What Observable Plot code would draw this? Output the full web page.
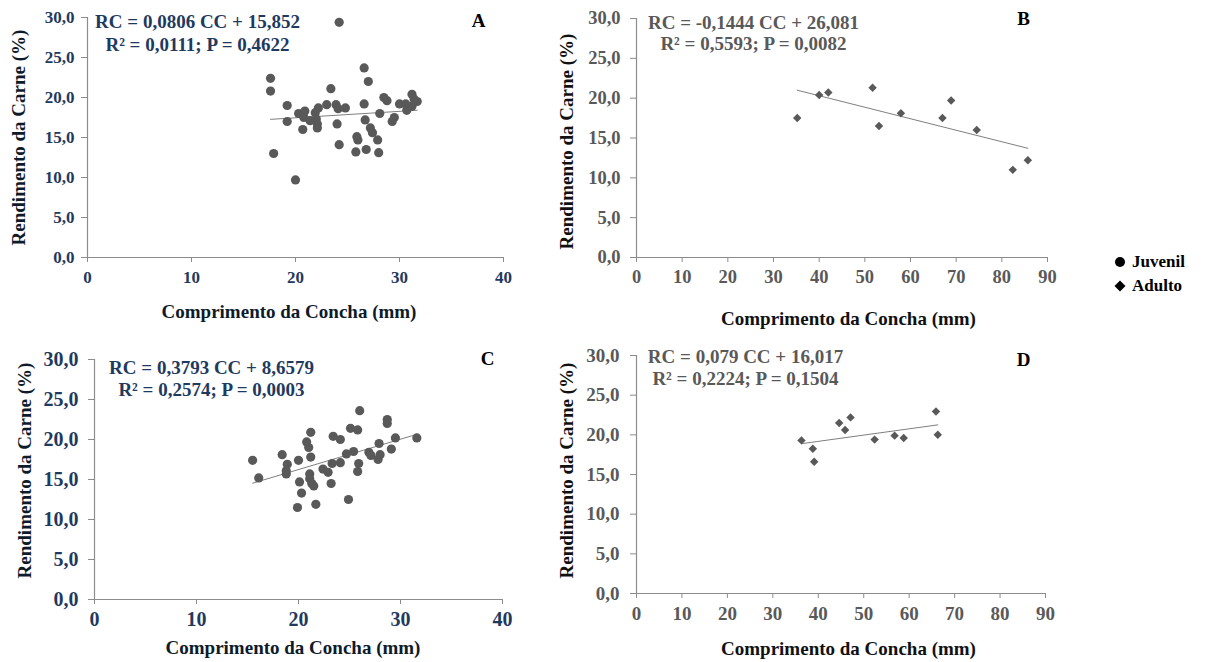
<!DOCTYPE html>
<html>
<head>
<meta charset="utf-8">
<script src="https://cdn.jsdelivr.net/npm/d3@7"></script>
<script src="https://cdn.jsdelivr.net/npm/@observablehq/plot@0.6"></script>
<style>
  html, body { margin: 0; padding: 0; background: #fff; }
  #root { position: relative; width: 1212px; height: 662px; overflow: hidden; font-family: "Liberation Serif", "Times New Roman", serif; }
  #root svg, #root svg text, #root svg g { font-family: "Liberation Serif", "Times New Roman", serif !important; font-weight: bold; font-variant: normal !important; }
  .panel { position: absolute; }
  .legend { position: absolute; font-family: "Liberation Serif", serif; font-weight: bold; font-size: 17px; color: #000; display: flex; align-items: center; gap: 6px; line-height: 22px; }
</style>
</head>
<body>
<div id="root"></div>
<script>
// ---------- DATA ----------
// Panel A (Juvenil)
const aX = [24.2,17.6,17.6,19.2,19.2,17.9,20.0,20.7,20.3,20.9,20.8,21.4,21.9,22.2,22.0,22.1,22.1,23.0,23.4,23.9,24.1,24.8,24.0,24.2,26.6,27.0,26.6,26.7,27.2,27.4,25.9,26.0,25.8,26.8,27.9,28.1,28.0,28.5,28.8,29.3,29.5,30.0,30.6,30.7,31.2,31.4,31.7,31.2];
const aY = [29.4,22.4,20.8,19.0,17.0,13.0,9.7,16.0,18.0,18.3,17.5,17.1,18.1,18.7,17.3,16.7,16.2,19.1,21.1,19.1,18.6,18.7,16.7,14.1,23.7,22.0,19.2,17.2,16.2,15.6,15.1,14.7,13.2,13.5,14.7,18.0,13.1,20.0,19.6,17.0,17.5,19.2,19.2,18.4,20.4,19.8,19.5,18.9];
// Panel B (Adulto)
const bX = [35.2,40.0,42.0,51.7,53.1,57.9,67.0,68.9,74.5,82.4,85.7];
const bY = [17.5,20.4,20.7,21.3,16.5,18.1,17.5,19.7,16.0,11.0,12.2];
// Panel C (Juvenil)
const cX = [15.5,16.1,18.4,18.9,18.8,18.8,20.0,20.1,20.3,19.9,20.8,21.0,21.2,21.2,21.1,21.1,21.3,21.5,21.7,22.4,22.9,23.2,23.3,23.4,24.1,24.1,24.7,24.9,25.1,25.4,25.8,26.0,25.9,25.8,26.9,27.1,27.8,27.9,28.0,28.7,28.7,29.1,29.5,31.6];
const cY = [17.4,15.2,18.1,16.9,16.1,15.7,17.4,14.7,13.3,11.5,19.7,19.0,20.9,17.8,15.7,15.1,14.5,14.2,11.9,16.3,15.9,14.5,17.0,20.4,20.0,17.1,18.2,12.5,21.4,18.5,21.2,23.6,17.0,16.0,18.4,18.0,17.5,19.5,18.1,22.5,22.0,18.8,20.2,20.2];
// Panel D (Adulto)
const dX = [36.3,38.8,39.1,44.6,45.9,47.1,52.4,56.8,58.8,65.9,66.3];
const dY = [19.3,18.25,16.6,21.5,20.6,22.2,19.4,19.9,19.6,22.95,20.0];

// Regression coefficients (slope, intercept) as printed on each panel
const slopes = [0.0806, -0.1444, 0.3793, 0.079];
const intercepts = [15.852, 26.081, 8.6579, 16.017];

// Texts
const letters = ["A", "B", "C", "D"];
const eqLine1 = ["RC = 0,0806 CC + 15,852", "RC = -0,1444 CC + 26,081", "RC = 0,3793 CC + 8,6579", "RC = 0,079 CC + 16,017"];
const eqLine2 = ["R\u00b2 = 0,0111; P = 0,4622", "R\u00b2 = 0,5593; P = 0,0082", "R\u00b2 = 0,2574; P = 0,0003", "R\u00b2 = 0,2224; P = 0,1504"];
const xTitle = "Comprimento da Concha (mm)";
const yTitle = "Rendimento da Carne (%)";
const yTicks = [0, 5, 10, 15, 20, 25, 30];
const xTicksJuv = [0, 10, 20, 30, 40];
const xTicksAdu = [0, 10, 20, 30, 40, 50, 60, 70, 80, 90];
const legendLabels = ["Juvenil", "Adulto"];

// ---------- STYLE ----------
const FONT = "Liberation Serif";
const axisGray = "#8c8c8c";
const lineGray = "#7f7f7f";
const dotGray = "#595959";
const navy = "#1f3a5f";
const gray = "#595959";
const fmtY = d => d.toFixed(1).replace(".", ",");

const panels = [
  {xs: aX, ys: aY, i: 0, left: 0, top: 0, w: 540, h: 330, ml: 87, mr: 37, mt: 17, mb: 73,
   xmax: 40, xticks: xTicksJuv, symbol: "circle", r: 4.6, tickFs: 17, tickColor: navy, eqColor: navy, titleColor: "#0d1b2a",
   ypad: 7, xpad: 8, eqdx: 110, eq1dy: 4, eq2dy: 27, letdx: 391, letdy: 3,
   xtdx: -6.5, xtdy: 54, ytdx: -69, ytdy: 0},
  {xs: bX, ys: bY, i: 1, left: 540, top: 0, w: 540, h: 330, ml: 96, mr: 33, mt: 18, mb: 73,
   xmax: 90, xticks: xTicksAdu, symbol: "diamond2", r: 3.8, tickFs: 18.5, tickColor: gray, eqColor: gray, titleColor: "#111",
   ypad: 10, xpad: 7, eqdx: 117, eq1dy: 4, eq2dy: 25, letdx: 387, letdy: 0,
   xtdx: 6.5, xtdy: 61, ytdx: -70, ytdy: 3.5},
  {xs: cX, ys: cY, i: 2, left: 0, top: 330, w: 540, h: 332, ml: 94, mr: 38, mt: 29, mb: 63,
   xmax: 40, xticks: xTicksJuv, symbol: "circle", r: 4.6, tickFs: 20, tickColor: navy, eqColor: navy, titleColor: "#0d1b2a",
   ypad: 10, xpad: 7, eqdx: 117, eq1dy: 8, eq2dy: 30, letdx: 393, letdy: -1,
   xtdx: -5.5, xtdy: 48, ytdx: -70, ytdy: -9},
  {xs: dX, ys: dY, i: 3, left: 540, top: 330, w: 540, h: 332, ml: 96, mr: 35, mt: 25, mb: 69,
   xmax: 90, xticks: xTicksAdu, symbol: "diamond2", r: 3.8, tickFs: 19, tickColor: gray, eqColor: gray, titleColor: "#111",
   ypad: 11, xpad: 8, eqdx: 109, eq1dy: 1, eq2dy: 23, letdx: 387, letdy: 4,
   xtdx: 7.5, xtdy: 55, ytdx: -70, ytdy: -4}
];

const root = document.getElementById("root");

for (const o of panels) {
  const data = o.xs.map((x, k) => ({x, y: o.ys[k]}));
  const ext = d3.extent(o.xs);
  const fit = ext.map(x => ({x, y: slopes[o.i] * x + intercepts[o.i]}));
  const txt = {text: d => d, textAnchor: "middle", lineAnchor: "middle", fontSize: 19, fontFamily: FONT};
  const chart = Plot.plot({
    width: o.w, height: o.h,
    marginLeft: o.ml, marginRight: o.mr, marginTop: o.mt, marginBottom: o.mb,
    style: {fontFamily: FONT, fontWeight: "bold", background: "transparent", overflow: "visible"},
    x: {domain: [0, o.xmax]},
    y: {domain: [0, 30]},
    marks: [
      Plot.axisY({ticks: yTicks, tickFormat: fmtY, tickSize: 6, tickPadding: o.ypad, fontSize: o.tickFs, fontFamily: FONT, fontWeight: "bold", stroke: axisGray, fill: o.tickColor, label: null}),
      Plot.axisX({ticks: o.xticks, tickFormat: d => String(d), tickSize: 5, tickPadding: o.xpad, fontSize: o.tickFs, fontFamily: FONT, fontWeight: "bold", stroke: axisGray, fill: o.tickColor, label: null}),
      Plot.ruleX([0], {stroke: axisGray, strokeWidth: 1.2}),
      Plot.ruleY([0], {stroke: axisGray, strokeWidth: 1.2}),
      Plot.line(fit, {x: "x", y: "y", stroke: lineGray, strokeWidth: 1}),
      Plot.dot(data, {x: "x", y: "y", symbol: o.symbol, r: o.r, fill: dotGray, stroke: "none"}),
      Plot.text([eqLine1[o.i]], {...txt, frameAnchor: "top-left", dx: o.eqdx, dy: o.eq1dy, fill: o.eqColor}),
      Plot.text([eqLine2[o.i]], {...txt, frameAnchor: "top-left", dx: o.eqdx, dy: o.eq2dy, fill: o.eqColor}),
      Plot.text([letters[o.i]], {...txt, frameAnchor: "top-left", dx: o.letdx, dy: o.letdy, fill: "#000"}),
      Plot.text([xTitle], {...txt, frameAnchor: "bottom", dx: o.xtdx, dy: o.xtdy, fill: o.titleColor}),
      Plot.text([yTitle], {...txt, frameAnchor: "left", dx: o.ytdx, dy: o.ytdy, rotate: -90, fill: o.titleColor})
    ]
  });
  const div = document.createElement("div");
  div.className = "panel";
  div.style.left = o.left + "px";
  div.style.top = o.top + "px";
  div.appendChild(chart);
  root.appendChild(div);
}

// Legend
const legendShapes = [
  '<svg width="12" height="12" viewBox="-6 -6 12 12"><circle r="5" fill="#000"/></svg>',
  '<svg width="12" height="12" viewBox="-6 -6 12 12"><path d="M0,-5.5L5.5,0L0,5.5L-5.5,0Z" fill="#000"/></svg>'
];
const legendY = [262, 286];
legendLabels.forEach((lab, k) => {
  const el = document.createElement("div");
  el.className = "legend";
  el.style.left = "1114px";
  el.style.top = (legendY[k] - 11) + "px";
  el.innerHTML = legendShapes[k] + "<span>" + lab + "</span>";
  root.appendChild(el);
});
</script>
</body>
</html>
